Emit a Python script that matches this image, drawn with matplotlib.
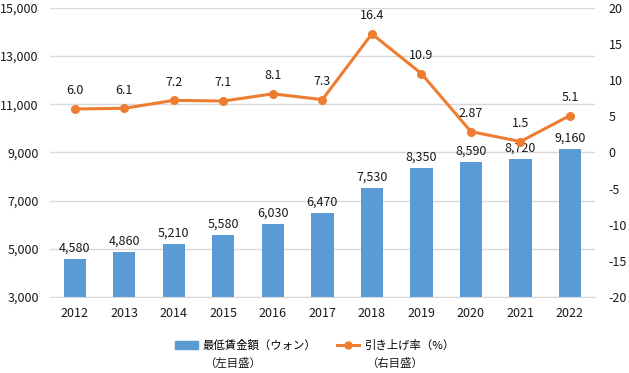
import matplotlib
matplotlib.use("Agg")
import matplotlib.pyplot as plt
from matplotlib.patches import Patch
from matplotlib.lines import Line2D

plt.rcParams['font.family'] = ['Noto Sans CJK JP', 'DejaVu Sans']
plt.rcParams['axes.unicode_minus'] = False

years = ["2012", "2013", "2014", "2015", "2016", "2017", "2018", "2019", "2020", "2021", "2022"]
wage = [4580, 4860, 5210, 5580, 6030, 6470, 7530, 8350, 8590, 8720, 9160]
rate = [6.0, 6.1, 7.2, 7.1, 8.1, 7.3, 16.4, 10.9, 2.87, 1.5, 5.1]
rate_labels = ["6.0", "6.1", "7.2", "7.1", "8.1", "7.3", "16.4", "10.9", "2.87", "1.5", "5.1"]

blue = "#5B9BD5"
orange = "#ED7D31"
txt = "#1a1a1a"

fig = plt.figure(figsize=(6.29, 3.73), dpi=100)
ax = fig.add_axes([0.0795, 0.204, 0.866, 0.775])
ax2 = ax.twinx()

x = list(range(len(years)))
ax.bar(x, wage, width=0.45, color=blue, zorder=2)
for xi, w in zip(x, wage):
    ax.text(xi, w + 180, f"{w:,}", ha="center", va="bottom", fontsize=9, color=txt)

ax.set_ylim(3000, 15000)
ax.set_yticks(range(3000, 15001, 2000))
ax.set_yticklabels([f"{v:,}" for v in range(3000, 15001, 2000)])
ax.set_xlim(-0.5, 10.5)
ax.set_xticks(x)
ax.set_xticklabels(years)
ax.grid(axis="y", color="#D9D9D9", linewidth=1, zorder=0)
ax.set_axisbelow(True)

ax2.plot(x, rate, color=orange, linewidth=2.2, marker="o", markersize=5.5, zorder=3)
for xi, r, lab in zip(x, rate, rate_labels):
    ax2.text(xi, r + 1.6, lab, ha="center", va="bottom", fontsize=9, color=txt)
ax2.set_ylim(-20, 20)
ax2.set_yticks(range(-20, 21, 5))

for a in (ax, ax2):
    for s in a.spines.values():
        s.set_visible(False)
    a.tick_params(length=0, labelsize=9, colors=txt)
ax.spines["bottom"].set_visible(True)
ax.spines["bottom"].set_color("#D9D9D9")
ax.tick_params(axis="x", pad=7)
ax.tick_params(axis="y", pad=8)
ax2.tick_params(axis="y", pad=10)

handles = [Patch(color=blue), Line2D([], [], color=orange, linewidth=2.2, marker="o", markersize=5)]
fig.legend(handles, ["最低賃金額（ウォン）", "引き上げ率（%）"], ncol=2, loc="center",
           bbox_to_anchor=(0.5, 1 - 345 / 373), frameon=False, fontsize=8.2,
           handlelength=2.0, columnspacing=1.8, handletextpad=0.4)
fig.text(204 / 629, 1 - 363 / 373, "（左目盛）", ha="left", va="center", fontsize=8.2, color=txt)
fig.text(366 / 629, 1 - 363 / 373, "（右目盛）", ha="left", va="center", fontsize=8.2, color=txt)

fig.savefig("out.png", dpi=100)
